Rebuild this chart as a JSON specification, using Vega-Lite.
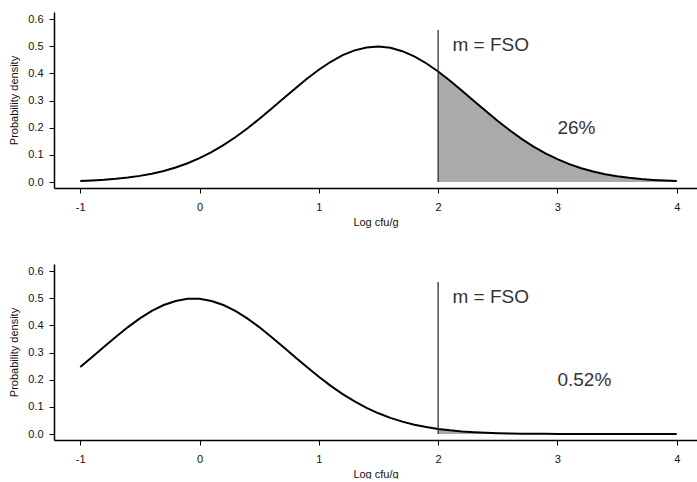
{
  "$schema": "https://vega.github.io/schema/vega-lite/v6.json",
  "padding": {"left": 8, "top": 12, "right": 0, "bottom": 0},
  "spacing": 37,
  "config": {
    "view": {"stroke": null},
    "font": "Liberation Sans",
    "axis": {
      "grid": false,
      "domainColor": "#000",
      "domainWidth": 1.5,
      "tickColor": "#000",
      "tickSize": 5,
      "labelFont": "Liberation Sans",
      "labelFontSize": 11,
      "labelColor": "#111",
      "labelOverlap": false,
      "titleFont": "Liberation Sans",
      "titleFontSize": 11,
      "titleFontWeight": "normal",
      "titleColor": "#111"
    }
  },
  "datasets": {
    "top": [
      {"x": -1.0, "y": 0.0039}, {"x": -0.9, "y": 0.0058}, {"x": -0.8, "y": 0.0083}, {"x": -0.7, "y": 0.0118},
      {"x": -0.6, "y": 0.0164}, {"x": -0.5, "y": 0.0226}, {"x": -0.4, "y": 0.0306}, {"x": -0.3, "y": 0.0408},
      {"x": -0.2, "y": 0.0536}, {"x": -0.1, "y": 0.0692}, {"x": 0.0, "y": 0.0880}, {"x": 0.1, "y": 0.1102},
      {"x": 0.2, "y": 0.1359}, {"x": 0.3, "y": 0.1650}, {"x": 0.4, "y": 0.1971}, {"x": 0.5, "y": 0.2319},
      {"x": 0.6, "y": 0.2686}, {"x": 0.7, "y": 0.3063}, {"x": 0.8, "y": 0.3438}, {"x": 0.9, "y": 0.3800},
      {"x": 1.0, "y": 0.4134}, {"x": 1.1, "y": 0.4428}, {"x": 1.2, "y": 0.4670}, {"x": 1.3, "y": 0.4848},
      {"x": 1.4, "y": 0.4956}, {"x": 1.5, "y": 0.4987}, {"x": 1.6, "y": 0.4940}, {"x": 1.7, "y": 0.4818},
      {"x": 1.8, "y": 0.4626}, {"x": 1.9, "y": 0.4373}, {"x": 2.0, "y": 0.4070}, {"x": 2.1, "y": 0.3729},
      {"x": 2.2, "y": 0.3364}, {"x": 2.3, "y": 0.2987}, {"x": 2.4, "y": 0.2611}, {"x": 2.5, "y": 0.2248},
      {"x": 2.6, "y": 0.1904}, {"x": 2.7, "y": 0.1589}, {"x": 2.8, "y": 0.1305}, {"x": 2.9, "y": 0.1055},
      {"x": 3.0, "y": 0.0840}, {"x": 3.1, "y": 0.0658}, {"x": 3.2, "y": 0.0508}, {"x": 3.3, "y": 0.0386},
      {"x": 3.4, "y": 0.0288}, {"x": 3.5, "y": 0.0212}, {"x": 3.6, "y": 0.0154}, {"x": 3.7, "y": 0.0110},
      {"x": 3.8, "y": 0.0077}, {"x": 3.9, "y": 0.0053}, {"x": 4.0, "y": 0.0036}
    ],
    "bottom": [
      {"x": -1.0, "y": 0.2464}, {"x": -0.9, "y": 0.2836}, {"x": -0.8, "y": 0.3214}, {"x": -0.7, "y": 0.3585},
      {"x": -0.6, "y": 0.3937}, {"x": -0.5, "y": 0.4257}, {"x": -0.4, "y": 0.4532}, {"x": -0.3, "y": 0.4749},
      {"x": -0.2, "y": 0.4900}, {"x": -0.1, "y": 0.4977}, {"x": 0.0, "y": 0.4977}, {"x": 0.1, "y": 0.4900},
      {"x": 0.2, "y": 0.4749}, {"x": 0.3, "y": 0.4532}, {"x": 0.4, "y": 0.4257}, {"x": 0.5, "y": 0.3937},
      {"x": 0.6, "y": 0.3585}, {"x": 0.7, "y": 0.3214}, {"x": 0.8, "y": 0.2836}, {"x": 0.9, "y": 0.2464},
      {"x": 1.0, "y": 0.2107}, {"x": 1.1, "y": 0.1775}, {"x": 1.2, "y": 0.1471}, {"x": 1.3, "y": 0.1201},
      {"x": 1.4, "y": 0.0965}, {"x": 1.5, "y": 0.0763}, {"x": 1.6, "y": 0.0595}, {"x": 1.7, "y": 0.0456},
      {"x": 1.8, "y": 0.0344}, {"x": 1.9, "y": 0.0256}, {"x": 2.0, "y": 0.0187}, {"x": 2.1, "y": 0.0135},
      {"x": 2.2, "y": 0.0096}, {"x": 2.3, "y": 0.0067}, {"x": 2.4, "y": 0.0046}, {"x": 2.5, "y": 0.0031},
      {"x": 2.6, "y": 0.0021}, {"x": 2.7, "y": 0.0014}, {"x": 2.8, "y": 0.0009}, {"x": 2.9, "y": 0.0006},
      {"x": 3.0, "y": 0.0004}, {"x": 3.1, "y": 0.0002}, {"x": 3.2, "y": 0.0001}, {"x": 3.3, "y": 0.0001},
      {"x": 3.4, "y": 0.0001}, {"x": 3.5, "y": 0.0}, {"x": 3.6, "y": 0.0}, {"x": 3.7, "y": 0.0},
      {"x": 3.8, "y": 0.0}, {"x": 3.9, "y": 0.0}, {"x": 4.0, "y": 0.0}
    ],
    "rule": [{"x": 2, "y": 0, "y2": 0.56}],
    "labTop": [{"x": 2.12, "y": 0.505, "label": "m = FSO"}, {"x": 3.0, "y": 0.2, "label": "26%"}],
    "labBot": [{"x": 2.12, "y": 0.505, "label": "m = FSO"}, {"x": 3.0, "y": 0.2, "label": "0.52%"}]
  },
  "vconcat": [
    {
      "width": 643,
      "height": 176,
      "encoding": {
        "x": {"field": "x", "type": "quantitative", "scale": {"domain": [-1.22, 4.17], "nice": false, "zero": false},
          "axis": {"values": [-1, 0, 1, 2, 3, 4], "labelExpr": "'' + datum.value", "title": "Log cfu/g", "labelPadding": 8, "titlePadding": 4}},
        "y": {"field": "y", "type": "quantitative", "scale": {"domain": [-0.022, 0.626], "nice": false, "zero": false},
          "axis": {"values": [0, 0.1, 0.2, 0.3, 0.4, 0.5, 0.6], "format": ".1f", "labelOverlap": false, "title": "Probability density", "labelPadding": 6, "titlePadding": 8}}
      },
      "layer": [
        {
          "data": {"name": "top"},
          "transform": [{"filter": "datum.x >= 2"}],
          "mark": {"type": "area", "color": "#aaaaaa"}
        },
        {
          "data": {"name": "top"},
          "mark": {"type": "line", "color": "#000", "strokeWidth": 2}
        },
        {
          "data": {"name": "rule"},
          "mark": {"type": "rule", "color": "#333", "strokeWidth": 1.3},
          "encoding": {"y2": {"field": "y2"}}
        },
        {
          "data": {"name": "labTop"},
          "mark": {"type": "text", "align": "left", "baseline": "middle", "fontSize": 19, "color": "#333", "font": "Liberation Sans"},
          "encoding": {"text": {"field": "label"}}
        }
      ]
    },
    {
      "width": 643,
      "height": 176,
      "encoding": {
        "x": {"field": "x", "type": "quantitative", "scale": {"domain": [-1.22, 4.17], "nice": false, "zero": false},
          "axis": {"values": [-1, 0, 1, 2, 3, 4], "labelExpr": "'' + datum.value", "title": "Log cfu/g", "labelPadding": 8, "titlePadding": 4}},
        "y": {"field": "y", "type": "quantitative", "scale": {"domain": [-0.022, 0.626], "nice": false, "zero": false},
          "axis": {"values": [0, 0.1, 0.2, 0.3, 0.4, 0.5, 0.6], "format": ".1f", "labelOverlap": false, "title": "Probability density", "labelPadding": 6, "titlePadding": 8}}
      },
      "layer": [
        {
          "data": {"name": "bottom"},
          "transform": [{"filter": "datum.x >= 2"}],
          "mark": {"type": "area", "color": "#aaaaaa"}
        },
        {
          "data": {"name": "bottom"},
          "mark": {"type": "line", "color": "#000", "strokeWidth": 2}
        },
        {
          "data": {"name": "rule"},
          "mark": {"type": "rule", "color": "#333", "strokeWidth": 1.3},
          "encoding": {"y2": {"field": "y2"}}
        },
        {
          "data": {"name": "labBot"},
          "mark": {"type": "text", "align": "left", "baseline": "middle", "fontSize": 19, "color": "#333", "font": "Liberation Sans"},
          "encoding": {"text": {"field": "label"}}
        }
      ]
    }
  ]
}
